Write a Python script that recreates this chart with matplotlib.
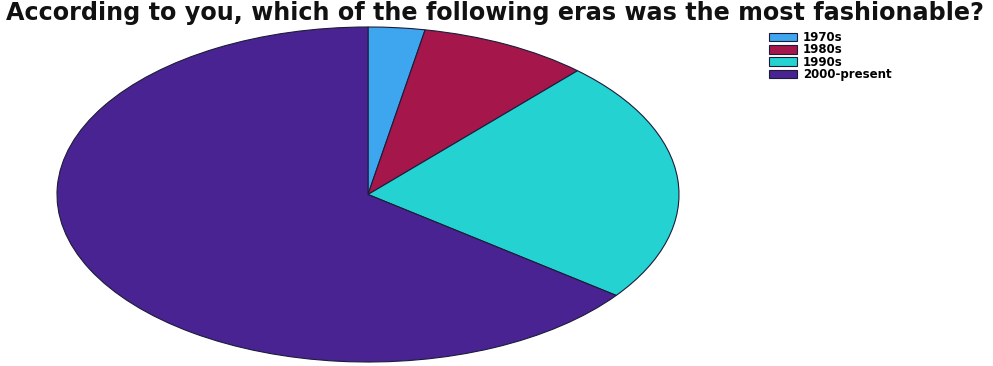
import matplotlib.pyplot as plt

# answers per era
eras = ['1970s', '1980s', '1990s', '2000-present']
counts = [1, 3, 8, 22]
colors = ['#3ea6ee', '#a5164b', '#24d2d2', '#4a2392']

fig = plt.figure(figsize=(9.93, 3.66), dpi=100)

# pie axes stretched to an ellipse
ax = fig.add_axes([57 / 993, 4 / 366, 622 / 993, 335 / 366])
wedges, _ = ax.pie(counts, colors=colors, startangle=90, counterclock=False,
                   wedgeprops=dict(edgecolor='#1c1c3a', linewidth=0.8))
ax.set_aspect('auto')
ax.set_xlim(-1, 1)
ax.set_ylim(-1, 1)
ax.axis('off')

fig.text(0.4985, 0.965, 'According to you, which of the following eras was the most fashionable?',
         ha='center', va='center', fontsize=17.2, fontweight='bold', color='#111111')

fig.legend(wedges, eras, loc='upper left', bbox_to_anchor=(769 / 993, 1 - 31 / 366),
           frameon=False, prop=dict(size=8.5, weight='bold'),
           handlelength=2.4, handleheight=0.75,
           labelspacing=-0.05, handletextpad=0.45, borderpad=0, borderaxespad=0)

fig.savefig('out.png', dpi=100)
